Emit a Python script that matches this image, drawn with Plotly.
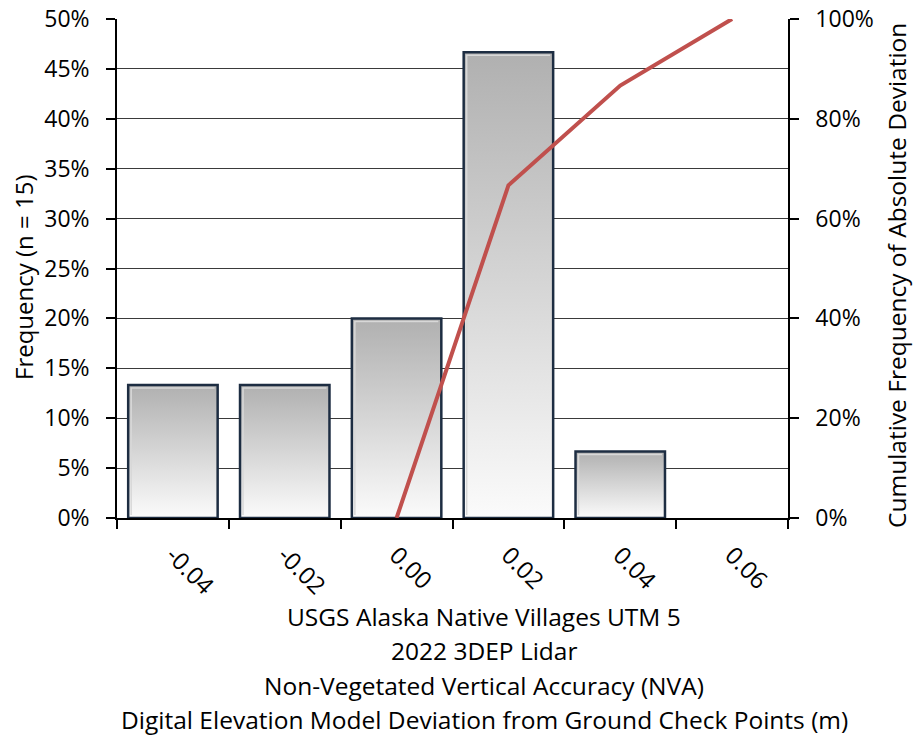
import plotly.graph_objects as go

categories = ["-0.04", "-0.02", "0.00", "0.02", "0.04", "0.06"]
frequency = [0.1333, 0.1333, 0.20, 0.4667, 0.0667, 0.0]
cum_x = ["0.00", "0.02", "0.04", "0.06"]
cum_freq = [0.0, 0.6667, 0.8667, 1.0]
y1_title = "Frequency (n = 15)"
y2_title = "Cumulative Frequency of Absolute Deviation"
title_lines = [
    "USGS Alaska Native Villages UTM 5",
    "2022 3DEP Lidar",
    "Non-Vegetated Vertical Accuracy (NVA)",
    "Digital Elevation Model Deviation from Ground Check Points (m)",
]

FONT = "Open Sans"
W, H = 913, 735
L, T, R, B = 117, 19, 125, 217
PW, PH = W - L - R, H - T - B
bw = 0.4


def px_x(x):
    return (x - L) / PW


def px_y(y):
    return 1 - (y - T) / PH


fig = go.Figure()
idx = {c: i for i, c in enumerate(categories)}
ix = 3.0 / PW * 6      # inner bevel inset in x data units
iy = 3.0 / PH * 0.5    # inner bevel inset in y data units
for c, v in zip(categories, frequency):
    if v <= 0:
        continue
    i = idx[c]
    fig.add_trace(go.Scatter(
        x=[i - bw, i - bw, i + bw, i + bw, i - bw],
        y=[0, v, v, 0, 0],
        mode="lines", fill="toself",
        fillgradient=dict(type="vertical",
                          colorscale=[[0, "#fbfbfb"], [1, "#b0b0b0"]]),
        line=dict(color="#1d2d42", width=2.5),
        hoverinfo="skip", showlegend=False,
    ))
    fig.add_trace(go.Scatter(
        x=[i - bw + ix, i - bw + ix, i + bw - ix],
        y=[iy, v - iy, v - iy],
        mode="lines", line=dict(color="#d8d8d8", width=1.5),
        hoverinfo="skip", showlegend=False,
    ))

fig.add_trace(go.Scatter(
    x=[idx[c] for c in cum_x], y=cum_freq, yaxis="y2",
    mode="lines", line=dict(color="#c0504d", width=4),
    showlegend=False,
))

fig.update_layout(
    width=W, height=H,
    margin=dict(l=L, r=R, t=T, b=B, autoexpand=False),
    paper_bgcolor="white", plot_bgcolor="white",
    font=dict(family=FONT, size=23, color="black"),
    xaxis=dict(
        range=[-0.5, 5.5], tickmode="array",
        tickvals=list(range(len(categories))), ticktext=categories,
        tickangle=45, ticks="", showgrid=False, zeroline=False,
        showline=True, linecolor="black", linewidth=1.5,
        tickfont=dict(size=24), automargin=False, ticklabelstandoff=12,
        ticklabeloverflow="allow",
        minor=dict(tickmode="linear", tick0=-0.5, dtick=1, ticks="outside",
                   ticklen=9, tickcolor="black", tickwidth=1.5, showgrid=False),
    ),
    yaxis=dict(
        range=[0, 0.5], dtick=0.05, tickformat=".0%",
        ticks="outside", ticklen=9, tickcolor="black", tickwidth=1.5,
        showgrid=True, gridcolor="#3a3a3a", gridwidth=1,
        zeroline=False, showline=True, linecolor="black", linewidth=1.5,
        automargin=False, ticklabelstandoff=12, tickfont=dict(size=23),
        ticklabeloverflow="allow",
    ),
    yaxis2=dict(
        range=[0, 1], dtick=0.2, tickformat=".0%", overlaying="y", side="right",
        ticks="outside", ticklen=9, tickcolor="black", tickwidth=1.5,
        showgrid=False, zeroline=False, showline=True, linecolor="black",
        linewidth=1.5, automargin=False, ticklabelstandoff=12,
        tickfont=dict(size=23), ticklabeloverflow="allow",
    ),
)

fig.add_annotation(text=y1_title, xref="paper", yref="paper",
                   x=px_x(23), y=px_y(277), xanchor="center", yanchor="middle",
                   textangle=-90, showarrow=False, font=dict(size=24, family=FONT))
fig.add_annotation(text=y2_title, xref="paper", yref="paper",
                   x=px_x(896), y=px_y(276), xanchor="center", yanchor="middle",
                   textangle=-90, showarrow=False, font=dict(size=24.5, family=FONT))

for k, txt in enumerate(title_lines):
    fig.add_annotation(
        text=txt, xref="paper", yref="paper",
        x=px_x(484), xanchor="center",
        y=px_y(616 + 34.5 * k), yanchor="middle",
        showarrow=False, font=dict(size=24.5, family=FONT),
    )

fig.write_html("out.html", config={"displayModeBar": False},
               post_script="document.body.style.margin='0px';")
